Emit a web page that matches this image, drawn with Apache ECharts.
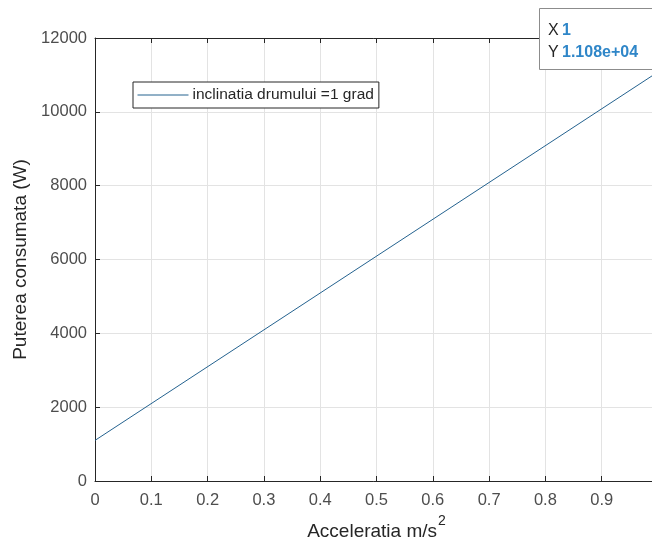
<!DOCTYPE html>
<html>
<head>
<meta charset="utf-8">
<script src="https://cdn.jsdelivr.net/npm/echarts@6/dist/echarts.min.js"></script>
<style>
  html, body { margin: 0; padding: 0; background: #fff; }
  #chart { width: 652px; height: 543px; }
</style>
</head>
<body>
<div id="chart"></div>
<script>
// values
var accel = [0, 1];                 // m/s^2
var putere = [1100, 11080];         // W
var seriesName = 'inclinatia drumului =1 grad';
var xTicks = ['0', '0.1', '0.2', '0.3', '0.4', '0.5', '0.6', '0.7', '0.8', '0.9', '1'];
var yTicks = [0, 2000, 4000, 6000, 8000, 10000, 12000];

var FONT = 'Liberation Sans, Arial, sans-serif';
var LINE = '#24628f';
var pts = accel.map(function (x, i) { return [x, putere[i]]; });

// data tip (MATLAB style) on the last point
var tipX = accel[accel.length - 1];
var tipY = putere[putere.length - 1].toExponential(3).replace(/e\+(\d)$/, 'e+0$1');

var tipRich = {
    k: { fontFamily: FONT, fontSize: 16, fill: '#262626' },
    v: { fontFamily: FONT, fontSize: 16, fill: '#2f86c8', fontWeight: 'bold' }
};

var chart = echarts.init(document.getElementById('chart'));
chart.setOption({
    backgroundColor: '#fff',
    animation: false,
    textStyle: { fontFamily: FONT },
    // the plot box runs past the right edge of the picture
    grid: { left: 95, top: 38, width: 563, bottom: 62, outerBoundsMode: 'none', containLabel: false },
    legend: {
        left: 133, top: 82,
        data: [seriesName],
        itemWidth: 51, itemHeight: 12, itemGap: 4,
        padding: [5, 5, 5, 4],
        borderColor: '#262626', borderWidth: 1,
        backgroundColor: '#fff',
        itemStyle: { opacity: 0 },
        lineStyle: { width: 1, color: LINE },
        textStyle: { fontFamily: FONT, fontSize: 15.5, color: '#262626', padding: [0, 0, 0, -1] }
    },
    xAxis: [{
        type: 'value', min: 0, max: 1, interval: 0.1,
        name: '{n|Acceleratia m/s}{s|2}',
        nameLocation: 'middle', nameGap: 33,
        nameTextStyle: {
            rich: {
                n: { fontFamily: FONT, fontSize: 19, color: '#262626', padding: [8, 0, 0, 0] },
                s: { fontFamily: FONT, fontSize: 14, color: '#262626', verticalAlign: 'top', padding: [0, 0, 8, 1] }
            }
        },
        axisLine: { lineStyle: { color: '#262626', width: 1 } },
        axisTick: { inside: true, length: 5, lineStyle: { color: '#262626' } },
        axisLabel: {
            margin: 11, fontSize: 16.5, color: '#4d4d4d', fontFamily: FONT,
            formatter: function (v) { return xTicks[Math.round(v * 10)]; }
        },
        splitLine: { show: true, lineStyle: { color: '#e3e3e3', width: 1 } }
    }, {
        type: 'value', min: 0, max: 1, interval: 0.1, position: 'top',
        axisLine: { lineStyle: { color: '#262626', width: 1 } },
        axisTick: { inside: true, length: 5, lineStyle: { color: '#262626' } },
        axisLabel: { show: false },
        splitLine: { show: false }
    }],
    yAxis: {
        type: 'value', min: yTicks[0], max: yTicks[yTicks.length - 1], interval: 2000,
        name: 'Puterea consumata (W)',
        nameLocation: 'middle', nameGap: 60,
        nameTextStyle: { fontFamily: FONT, fontSize: 19, color: '#262626' },
        axisLine: { show: true, lineStyle: { color: '#262626', width: 1 } },
        axisTick: { show: true, inside: true, length: 5, lineStyle: { color: '#262626' } },
        axisLabel: {
            margin: 8, fontSize: 16.5, color: '#4d4d4d', fontFamily: FONT,
            formatter: function (v) { return String(v); }
        },
        splitLine: { show: true, lineStyle: { color: '#e3e3e3', width: 1 } }
    },
    series: [{
        name: seriesName,
        type: 'line',
        data: pts,
        symbol: 'none',
        lineStyle: { color: LINE, width: 1 },
        itemStyle: { color: LINE }
    }],
    graphic: [{
        type: 'rect', left: 539, top: 8, z: 100,
        shape: { x: 0, y: 0, width: 130, height: 61 },
        style: { fill: '#fff', stroke: '#8c8c8c', lineWidth: 1 }
    }, {
        type: 'text', left: 548, top: 23, z: 101,
        style: { text: '{k|X} {v|' + tipX + '}', rich: tipRich }
    }, {
        type: 'text', left: 548, top: 45, z: 101,
        style: { text: '{k|Y} {v|' + tipY + '}', rich: tipRich }
    }]
});
</script>
</body>
</html>
